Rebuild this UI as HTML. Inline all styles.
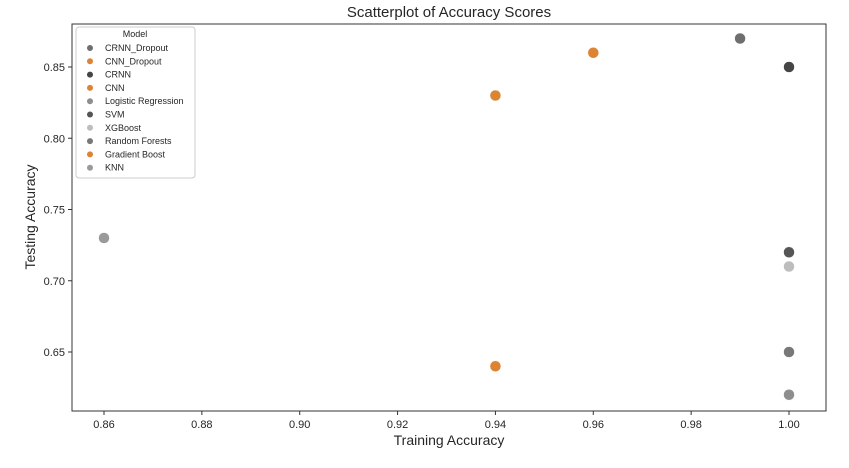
<!DOCTYPE html>
<html><head><meta charset="utf-8"><style>
body{margin:0;background:#fff;}
svg text{font-family:"Liberation Sans",sans-serif;}
</style></head><body>
<svg id="chart" width="849" height="463" xmlns="http://www.w3.org/2000/svg">
<text x="449" y="17" font-size="15" text-anchor="middle" fill="#262626">Scatterplot of Accuracy Scores</text>
<rect x="72" y="24" width="754" height="387" fill="none" stroke="#333" stroke-width="1"/>
<g id="xticks"></g>
<g id="yticks"></g>
<text x="449" y="445" font-size="14" text-anchor="middle" fill="#262626">Training Accuracy</text>
<text transform="translate(35,217) rotate(-90)" font-size="14" text-anchor="middle" fill="#262626">Testing Accuracy</text>
<g id="points"></g>
<g id="legend">
<rect x="76" y="27" width="119" height="151" rx="3" fill="#fff" stroke="#ccc"/>
<text x="135" y="37" font-size="9" text-anchor="middle" fill="#262626">Model</text>
</g>
</svg>
<script>
const models=["CRNN_Dropout","CNN_Dropout","CRNN","CNN","Logistic Regression","SVM","XGBoost","Random Forests","Gradient Boost","KNN"];
const trainAcc=[0.99,0.96,1.00,0.94,1.00,1.00,1.00,1.00,0.94,0.86];
const testAcc=[0.87,0.86,0.85,0.83,0.62,0.72,0.71,0.65,0.64,0.73];
const colors=["#6e6e6e","#dd8434","#454545","#dd8434","#8e8e8e","#555555","#bdbdbd","#787878","#dd8434","#9a9a9a"];
const xTicks=[0.86,0.88,0.90,0.92,0.94,0.96,0.98,1.00];
const yTicks=[0.65,0.70,0.75,0.80,0.85];
const NS="http://www.w3.org/2000/svg";
function xs(v){return 104+(v-0.86)/0.14*685;}
function ys(v){return 67+(0.85-v)/0.20*285;}
function mk(tag,attrs,parent){const e=document.createElementNS(NS,tag);for(const k in attrs)e.setAttribute(k,attrs[k]);parent.appendChild(e);return e;}
const gx=document.getElementById('xticks'),gy=document.getElementById('yticks'),gp=document.getElementById('points'),gl=document.getElementById('legend');
xTicks.forEach(t=>{const x=xs(t);
const l=mk('line',{x1:x,x2:x,y1:411,y2:415,stroke:'#333'},gx);


const tx=mk('text',{x:x,y:428,'font-size':11,'text-anchor':'middle',fill:'#262626'},gx);tx.textContent=t.toFixed(2);

});
yTicks.forEach(t=>{const y=ys(t);
const l=mk('line',{x1:68,x2:72,y1:y,y2:y,stroke:'#333'},gy);


const tx=mk('text',{x:65,y:y+4,'font-size':11,'text-anchor':'end',fill:'#262626'},gy);tx.textContent=t.toFixed(2);

});
models.forEach((m,i)=>{
const c=mk('circle',{cx:xs(trainAcc[i]),cy:ys(testAcc[i]),r:5.5,fill:colors[i],stroke:'#fff','stroke-width':0.5},gp);


const y=48+i*13.3;
const d=mk('circle',{cx:90,cy:y,r:3,fill:colors[i]},gl);


const t=mk('text',{x:105,y:y+3,'font-size':9,fill:'#262626'},gl);t.textContent=m;


});
</script>
</body></html>
